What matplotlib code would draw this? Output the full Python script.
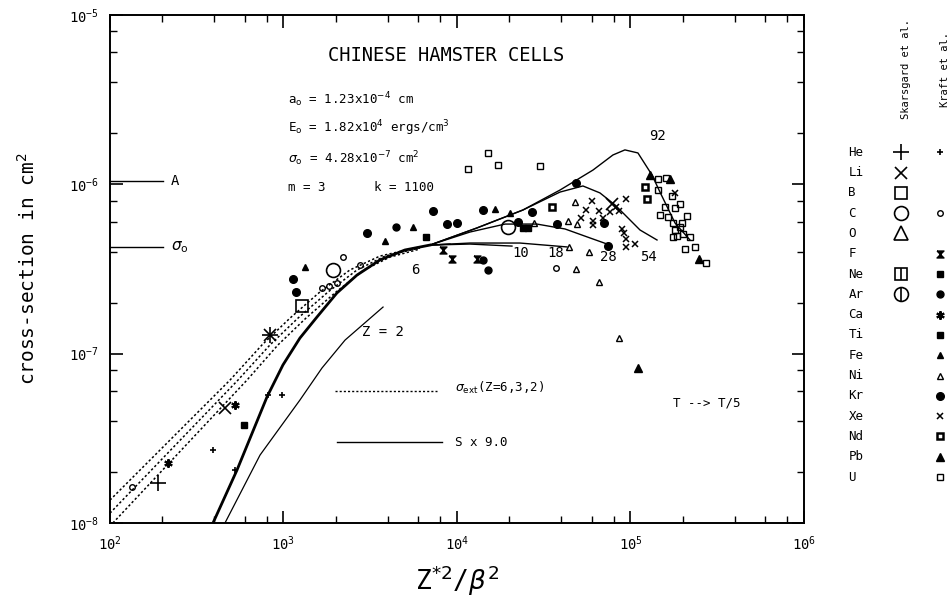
import matplotlib
matplotlib.use("Agg")
import matplotlib.pyplot as plt
import numpy as np

plt.rcParams['font.family'] = ['DejaVu Sans Mono', 'DejaVu Sans']
plt.rcParams['mathtext.fontset'] = 'dejavusans'

# all values are log10: x = Z*^2/beta^2, y = cross-section (cm^2)

# sigma_ext curves for Z = 6, 3, 2 (dotted)
ext6_lx = [2.000, 2.692, 2.876, 3.038, 3.210, 3.383, 3.556, 3.787]
ext6_ly = [-7.865, -7.156, -6.949, -6.790, -6.636, -6.506, -6.424, -6.370]
ext3_lx = [2.000, 2.738, 2.922, 3.084, 3.257, 3.424, 3.585, 3.787]
ext3_ly = [-7.942, -7.156, -6.949, -6.790, -6.636, -6.506, -6.424, -6.376]
ext2_lx = [2.017, 2.790, 2.968, 3.130, 3.303, 3.464, 3.614, 3.787]
ext2_ly = [-8.000, -7.156, -6.949, -6.790, -6.636, -6.506, -6.430, -6.382]

# common low-x part of the S x 9.0 curves (thick)
base_lx = [2.594, 2.732, 2.905, 2.997, 3.095, 3.193, 3.308, 3.424, 3.556, 3.700, 3.844]
base_ly = [-8.000, -7.688, -7.256, -7.067, -6.908, -6.784, -6.642, -6.536, -6.447, -6.388, -6.359]

# Z = 2 curve
z2_lx = [2.663, 2.865, 3.095, 3.222, 3.355, 3.574]
z2_ly = [-8.000, -7.599, -7.274, -7.085, -6.920, -6.725]

# tails of the curves for each Z
z6_lx = [3.844, 3.960]
z6_ly = [-6.359, -6.353]
z10_lx = [3.844, 4.075, 4.317]
z10_ly = [-6.359, -6.353, -6.365]
z18_lx = [3.844, 4.075, 4.363, 4.634]
z18_ly = [-6.359, -6.347, -6.347, -6.370]
z28_lx = [3.844, 4.075, 4.277, 4.461, 4.623, 4.767, 4.882]
z28_ly = [-6.359, -6.282, -6.235, -6.235, -6.264, -6.317, -6.359]
z54_lx = [3.844, 4.115, 4.380, 4.594, 4.726, 4.824, 4.911, 4.980, 5.055, 5.153]
z54_ly = [-6.359, -6.258, -6.152, -6.046, -6.010, -6.051, -6.122, -6.193, -6.270, -6.329]
z92_lx = [3.844, 4.115, 4.380, 4.594, 4.784, 4.899, 4.968, 5.043, 5.124, 5.170, 5.257, 5.343]
z92_ly = [-6.359, -6.258, -6.152, -6.034, -5.916, -5.827, -5.797, -5.815, -5.945, -6.046, -6.229, -6.329]

# Skarsgard et al. data
sk_he_lx = [2.277, 2.922]
sk_he_ly = [-7.765, -6.890]
sk_li_lx = [2.663, 2.922, 4.893]
sk_li_ly = [-7.321, -6.890, -6.116]
sk_b_lx = [3.107]
sk_b_ly = [-6.719]
sk_c_lx = [3.285, 4.294]
sk_c_ly = [-6.506, -6.252]

# Kraft et al. data
kr_he_lx = [2.594, 2.911, 2.991, 2.721]
kr_he_ly = [-7.569, -7.245, -7.245, -7.688]
kr_c_lx = [2.127, 4.571, 3.343, 3.441, 3.220, 3.265, 3.310]
kr_c_ly = [-7.788, -6.494, -6.429, -6.477, -6.612, -6.600, -6.585]
kr_f_lx = [3.971, 4.115, 3.919]
kr_f_ly = [-6.441, -6.441, -6.388]
kr_ne_lx = [4.380, 4.409, 2.772, 3.821]
kr_ne_ly = [-6.258, -6.258, -7.422, -6.311]
kr_ar_lx = [3.648, 4.150, 4.179]
kr_ar_ly = [-6.252, -6.447, -6.506]
kr_ca_lx = [2.334, 2.721]
kr_ca_ly = [-7.646, -7.304]
kr_fe_lx = [3.124, 3.585, 3.746, 4.219, 4.306]
kr_fe_ly = [-6.489, -6.335, -6.252, -6.146, -6.170]
kr_ni_lx = [4.680, 4.640, 4.692, 4.646, 4.761, 4.686, 4.819, 4.934, 4.444]
kr_ni_ly = [-6.105, -6.217, -6.235, -6.370, -6.400, -6.500, -6.577, -6.908, -6.229]
kr_kr_lx = [4.686, 4.870, 4.847, 4.577, 4.352, 3.862, 3.481, 3.055, 3.072, 3.942, 4.000, 4.150, 4.432]
kr_kr_ly = [-5.992, -6.365, -6.229, -6.235, -6.223, -6.158, -6.288, -6.559, -6.636, -6.235, -6.229, -6.152, -6.164]
kr_xe_lx = [4.778, 4.744, 4.819, 4.715, 4.784, 4.784, 4.842, 4.917, 4.934, 4.882, 4.974,
            4.951, 4.963, 4.974, 4.974, 5.026, 5.257]
kr_xe_ly = [-6.099, -6.152, -6.158, -6.199, -6.217, -6.240, -6.199, -6.134, -6.158, -6.164, -6.087,
            -6.264, -6.288, -6.323, -6.370, -6.353, -6.051]
kr_nd_lx = [4.548, 5.095, 5.084]
kr_nd_ly = [-6.134, -6.087, -6.016]
kr_pb_lx = [5.113, 5.395, 5.043, 5.228]
kr_pb_ly = [-5.945, -6.441, -7.085, -5.969]
kr_u_lx = [4.179, 4.236, 4.064, 4.479, 5.159, 5.205, 5.159, 5.239, 5.199, 5.257, 5.285, 5.170,
           5.216, 5.326, 5.245, 5.297, 5.257, 5.285, 5.245, 5.268, 5.303, 5.343, 5.372, 5.314, 5.435]
kr_u_ly = [-5.815, -5.886, -5.910, -5.892, -5.969, -5.963, -6.034, -6.069, -6.134, -6.140, -6.116, -6.181,
           -6.193, -6.187, -6.229, -6.229, -6.270, -6.252, -6.311, -6.305, -6.294, -6.311, -6.370, -6.382, -6.465]

# reference levels on the left
A_level = 1.04e-6
sigma0 = 4.28e-7

legend_elements = ["He", "Li", "B", "C", "O", "F", "Ne", "Ar", "Ca", "Ti", "Fe", "Ni",
                   "Kr", "Xe", "Nd", "Pb", "U"]

hourglass = [(-1, 1), (1, 1), (-1, -1), (1, -1), (-1, 1)]
DOT = (0, (1.5, 1.5))


def p(lx, ly):
    return 10 ** np.array(lx), 10 ** np.array(ly)


fig = plt.figure(figsize=(9.52, 5.97), dpi=100)
ax = fig.add_axes([0.1155, 0.124, 0.729, 0.851])
ax.set_xscale("log")
ax.set_yscale("log")
ax.set_xlim(1e2, 1e6)
ax.set_ylim(1e-8, 1e-5)

# curves
for lx, ly in [(ext6_lx, ext6_ly), (ext3_lx, ext3_ly), (ext2_lx, ext2_ly)]:
    ax.plot(*p(lx, ly), color="black", lw=1.1, ls=DOT)
ax.plot(*p(base_lx, base_ly), color="black", lw=2.0)
ax.plot(*p(z2_lx, z2_ly), color="black", lw=0.9)
for lx, ly in [(z6_lx, z6_ly), (z10_lx, z10_ly), (z18_lx, z18_ly),
               (z28_lx, z28_ly), (z54_lx, z54_ly), (z92_lx, z92_ly)]:
    ax.plot(*p(lx, ly), color="black", lw=1.0)

# Skarsgard points (large)
big = dict(color="black", ls="none", mfc="none", mec="black")
ax.plot(*p(sk_he_lx, sk_he_ly), marker="+", ms=12, mew=1.2, **big)
ax.plot(*p(sk_li_lx, sk_li_ly), marker="x", ms=9, mew=1.2, **big)
ax.plot(*p(sk_b_lx, sk_b_ly), marker="s", ms=9, mew=1.2, **big)
ax.plot(*p(sk_c_lx, sk_c_ly), marker="o", ms=10, mew=1.2, **big)

# Kraft points (small)
ax.plot(*p(kr_he_lx, kr_he_ly), ls="none", marker="+", ms=5, mew=1.2, color="black")
ax.plot(*p(kr_c_lx, kr_c_ly), ls="none", marker="o", ms=4, mew=1.0, mfc="none", mec="black")
ax.plot(*p(kr_f_lx, kr_f_ly), ls="none", marker=hourglass, ms=5, color="black")
ax.plot(*p(kr_ne_lx, kr_ne_ly), ls="none", marker="s", ms=4.5, color="black")
ax.plot(*p(kr_ar_lx, kr_ar_ly), ls="none", marker="o", ms=5, color="black")
ax.plot(*p(kr_ca_lx, kr_ca_ly), ls="none", marker=(6, 2, 0), ms=6, mew=1.5, color="black")
ax.plot(*p(kr_fe_lx, kr_fe_ly), ls="none", marker="^", ms=5, color="black")
ax.plot(*p(kr_ni_lx, kr_ni_ly), ls="none", marker="^", ms=5, mfc="none", mec="black", mew=1.0)
ax.plot(*p(kr_kr_lx, kr_kr_ly), ls="none", marker="o", ms=5.5, color="black")
ax.plot(*p(kr_xe_lx, kr_xe_ly), ls="none", marker="x", ms=5, mew=1.1, color="black")
ax.plot(*p(kr_nd_lx, kr_nd_ly), ls="none", marker="s", ms=5, mfc="white", mec="black", mew=1.8)
ax.plot(*p(kr_pb_lx, kr_pb_ly), ls="none", marker="^", ms=5.5, color="black")
ax.plot(*p(kr_u_lx, kr_u_ly), ls="none", marker="s", ms=5, mfc="none", mec="black", mew=1.0)

# curve labels
for txt, lx, ly in [("92", 5.153, -5.715), ("6", 3.758, -6.506), ("10", 4.369, -6.406),
                    ("18", 4.571, -6.406), ("28", 4.870, -6.429), ("54", 5.101, -6.429),
                    ("Z = 2", 3.574, -6.873)]:
    ax.text(10 ** lx, 10 ** ly, txt, ha="center", va="center", fontsize=10)

# left reference lines A and sigma_o
ax.plot([1e2, 10 ** 2.305], [A_level, A_level], color="black", lw=1.0, clip_on=False)
ax.plot([1e2, 10 ** 2.305], [sigma0, sigma0], color="black", lw=1.0, clip_on=False)
ax.text(10 ** 2.35, A_level, "A", va="center", fontsize=10)
ax.text(10 ** 2.35, sigma0, r"$\sigma_{\rm o}$", va="center", fontsize=11)

# in-plot key
ax.plot([10 ** 3.297, 10 ** 3.885], [10 ** -7.221, 10 ** -7.221], color="black", lw=1.0, ls=DOT)
ax.plot([10 ** 3.308, 10 ** 3.914], [10 ** -7.522, 10 ** -7.522], color="black", lw=1.0)
ax.text(10 ** 3.988, 10 ** -7.205, r"$\sigma_{\rm ext}$(Z=6,3,2)", va="center", fontsize=9)
ax.text(10 ** 3.988, 10 ** -7.522, "S x 9.0", va="center", fontsize=9)
ax.text(10 ** 5.245, 10 ** -7.292, "T --> T/5", va="center", fontsize=9)

# title and parameters
ax.text(0.485, 0.92, "CHINESE HAMSTER CELLS", transform=ax.transAxes, ha="center",
        va="center", fontsize=13.5)
tx = 0.2565
ax.text(tx, 0.833, r"a$_{\rm o}$ = 1.23x10$^{-4}$ cm", transform=ax.transAxes, va="center", fontsize=9)
ax.text(tx, 0.778, r"E$_{\rm o}$ = 1.82x10$^{4}$ ergs/cm$^{3}$", transform=ax.transAxes, va="center", fontsize=9)
ax.text(tx, 0.718, r"$\sigma_{\rm o}$ = 4.28x10$^{-7}$ cm$^{2}$", transform=ax.transAxes, va="center", fontsize=9)
ax.text(tx, 0.661, "m = 3", transform=ax.transAxes, va="center", fontsize=9)
ax.text(0.38, 0.661, "k = 1100", transform=ax.transAxes, va="center", fontsize=9)

# ticks
ax.tick_params(which="both", direction="in", top=True, right=True, labelsize=10)
ax.tick_params(which="major", length=9, width=1.2, pad=8)
ax.tick_params(which="minor", length=5, width=1.0)
ax.xaxis.set_minor_locator(matplotlib.ticker.LogLocator(base=10, subs=[2, 4, 6, 8]))
ax.yaxis.set_minor_locator(matplotlib.ticker.LogLocator(base=10, subs=[2, 4, 6, 8]))
ax.xaxis.set_minor_formatter(matplotlib.ticker.NullFormatter())
ax.yaxis.set_minor_formatter(matplotlib.ticker.NullFormatter())
for s in ax.spines.values():
    s.set_linewidth(1.4)

ax.set_xlabel(r"Z$^{*2}$/$\beta^{2}$", fontsize=19, labelpad=8)
ax.set_ylabel(r"cross-section in cm$^{2}$", fontsize=14, labelpad=22)

# element key on the right
lax = fig.add_axes([0.872, 0.184, 0.128, 0.578])
lax.set_xlim(0, 1)
lax.set_ylim(len(legend_elements) - 0.5, -0.5)
lax.axis("off")
for i, name in enumerate(legend_elements):
    lax.text(0.15, i, name, va="center", ha="left", fontsize=9)

sk_col = 0.58
kr_col = 0.9
lax.plot(sk_col, 0, marker="+", ms=12, mew=1.2, color="black")
lax.plot(sk_col, 1, marker="x", ms=9, mew=1.2, color="black")
lax.plot(sk_col, 2, marker="s", ms=9, mew=1.2, mfc="none", mec="black")
lax.plot(sk_col, 3, marker="o", ms=10, mew=1.2, mfc="none", mec="black")
lax.plot(sk_col, 4, marker="^", ms=10, mew=1.2, mfc="none", mec="black")
lax.plot(sk_col, 6, marker="s", ms=9, mew=1.2, mfc="none", mec="black")
lax.plot(sk_col, 6, marker="|", ms=9, mew=1.2, color="black")
lax.plot(sk_col, 7, marker="o", ms=10, mew=1.2, mfc="none", mec="black")
lax.plot(sk_col, 7, marker="|", ms=10, mew=1.2, color="black")

lax.plot(kr_col, 0, marker="+", ms=5, mew=1.2, color="black")
lax.plot(kr_col, 3, marker="o", ms=4, mew=1.0, mfc="none", mec="black")
lax.plot(kr_col, 5, marker=hourglass, ms=5, color="black")
lax.plot(kr_col, 6, marker="s", ms=4.5, color="black")
lax.plot(kr_col, 7, marker="o", ms=5, color="black")
lax.plot(kr_col, 8, marker=(6, 2, 0), ms=6, mew=1.5, color="black")
lax.plot(kr_col, 9, marker="s", ms=4.5, color="black")
lax.plot(kr_col, 10, marker="^", ms=5, color="black")
lax.plot(kr_col, 11, marker="^", ms=5, mfc="none", mec="black", mew=1.0)
lax.plot(kr_col, 12, marker="o", ms=5.5, color="black")
lax.plot(kr_col, 13, marker="x", ms=5, mew=1.1, color="black")
lax.plot(kr_col, 14, marker="s", ms=5, mfc="white", mec="black", mew=1.8)
lax.plot(kr_col, 15, marker="^", ms=5.5, color="black")
lax.plot(kr_col, 16, marker="s", ms=5, mfc="none", mec="black", mew=1.0)

fig.text(0.952, 0.80, "Skarsgard et al.", rotation=90, ha="center", va="bottom", fontsize=7.5)
fig.text(0.993, 0.82, "Kraft et al.", rotation=90, ha="center", va="bottom", fontsize=7.5)

fig.savefig("out.png", dpi=100)
